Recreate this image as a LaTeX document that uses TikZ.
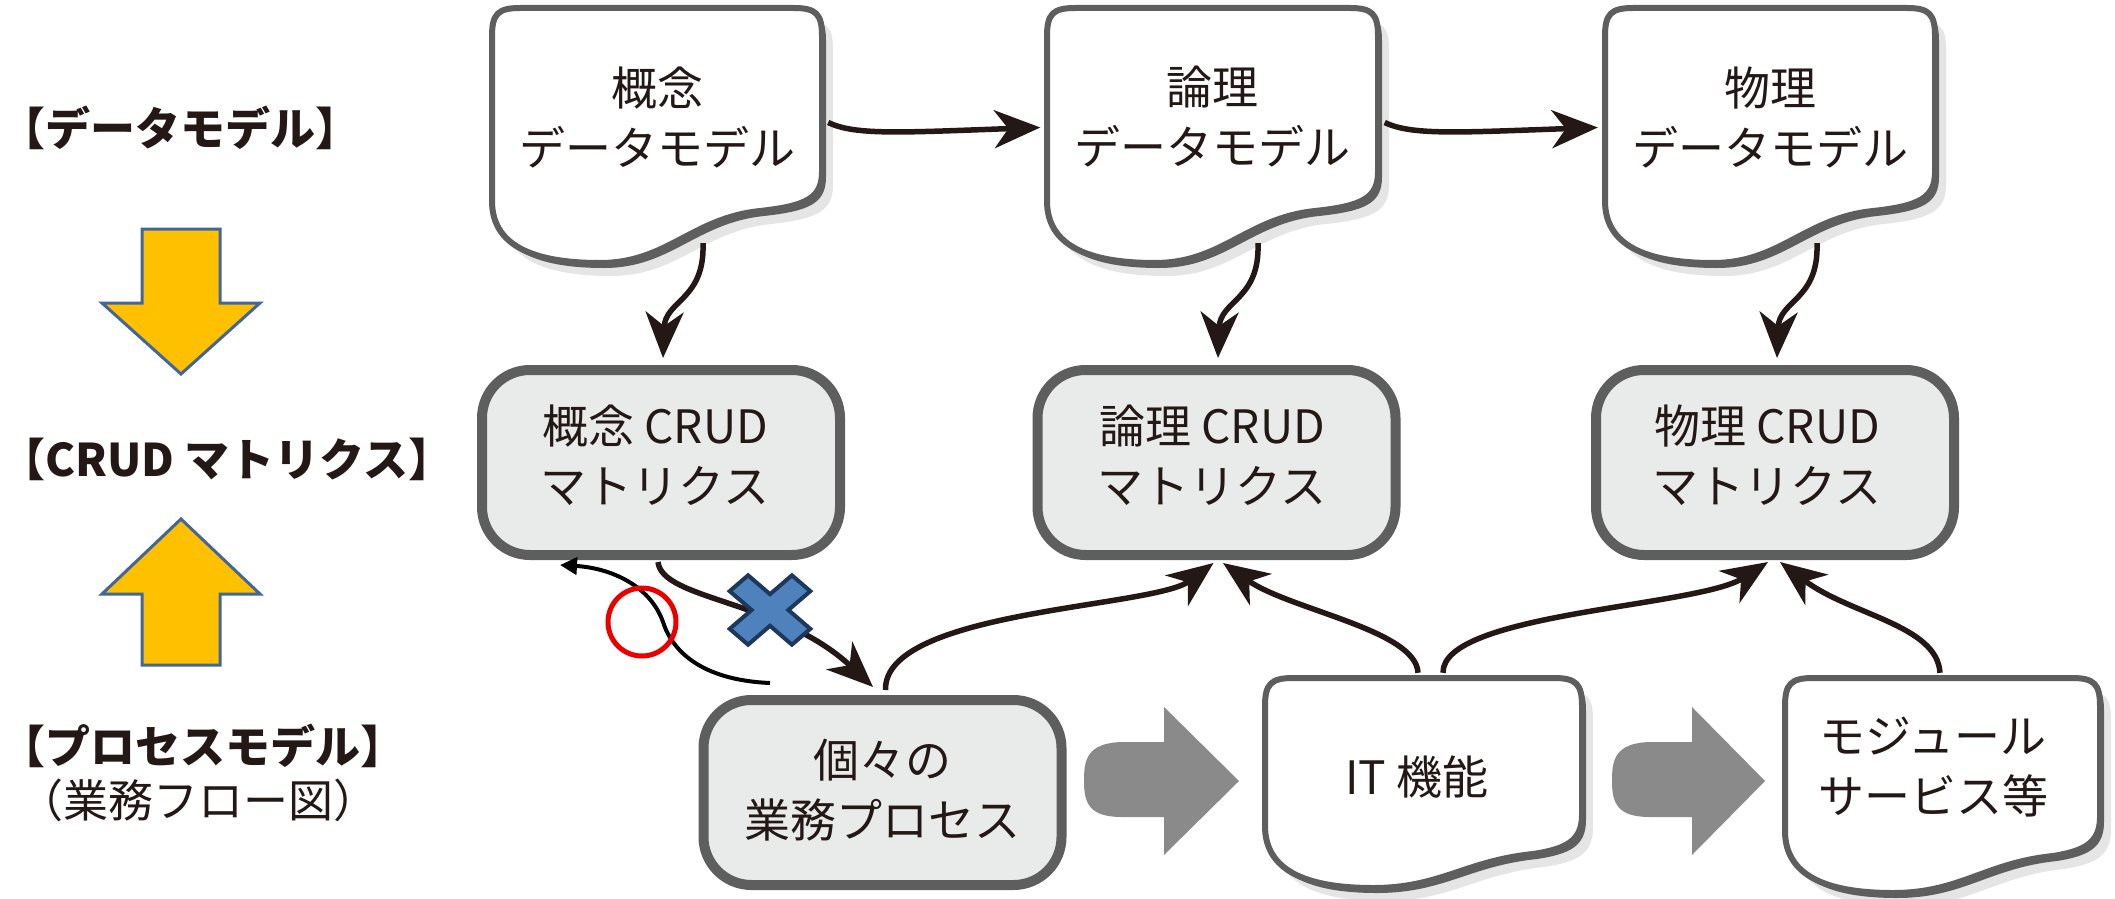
\documentclass[tikz,border=0pt]{standalone}
\usepackage{fontspec}
\setmainfont{Noto Sans CJK JP}
\usetikzlibrary{arrows.meta,calc}
\definecolor{bdgray}{RGB}{94,94,94}
\definecolor{crudfill}{RGB}{233,235,234}
\definecolor{inkc}{RGB}{35,24,21}
\definecolor{blockgray}{RGB}{138,138,138}
\definecolor{ygold}{RGB}{255,192,0}
\definecolor{yborder}{RGB}{65,102,154}
\definecolor{xblue}{RGB}{79,129,189}
\definecolor{xnavy}{RGB}{28,56,92}
\definecolor{okred}{RGB}{235,0,0}
\tikzset{
 boxlabel/.style={font=\fontsize{46}{60}\selectfont, align=center, text=inkc, inner sep=0pt},
 crudbox/.style={draw=bdgray, fill=crudfill, line width=10pt, rounded corners=48pt, minimum width=358pt, minimum height=185pt, inner sep=0pt},
 docarea/.style={minimum width=330pt, minimum height=255pt, inner sep=0pt},
 flowarrow/.style={draw=inkc, line width=5.5pt, -{Stealth[length=46pt,width=38pt,inset=14pt]}},
 sidelabel/.style={font=\fontsize{45}{50}\selectfont\bfseries, anchor=west, inner sep=0pt, text=inkc},
 yarrow/.style={fill=ygold, draw=yborder, line width=3pt},
 garrow/.style={fill=blockgray},
 xmark/.style={fill=xblue, draw=xnavy, line width=4pt},
 okline/.style={draw=black, line width=4pt, -{Triangle[length=17pt,width=17pt]}},
}
% L T R Bl Br
\newcommand{\mydocbox}[5]{%
 \fill[black,opacity=0.10,shift={(11,13)}] (#1,#2+28) -- (#1,#4-62) .. controls (#1,#4-18) and (#1+40,#4) .. (#1+108,#4) .. controls (#1+175,#4) and (#1+200,#5+8) .. (#1+268,#5+1) .. controls (#3-16,#5-4) and (#3,#5-12) .. (#3,#5-38) -- (#3,#2+28) .. controls (#3,#2+6) and (#3-6,#2) .. (#3-28,#2) -- (#1+28,#2) .. controls (#1+6,#2) and (#1,#2+6) .. (#1,#2+28) -- cycle;
 \fill[bdgray,shift={(4,5)}] (#1,#2+28) -- (#1,#4-62) .. controls (#1,#4-18) and (#1+40,#4) .. (#1+108,#4) .. controls (#1+175,#4) and (#1+200,#5+8) .. (#1+268,#5+1) .. controls (#3-16,#5-4) and (#3,#5-12) .. (#3,#5-38) -- (#3,#2+28) .. controls (#3,#2+6) and (#3-6,#2) .. (#3-28,#2) -- (#1+28,#2) .. controls (#1+6,#2) and (#1,#2+6) .. (#1,#2+28) -- cycle;
 \filldraw[fill=white,draw=bdgray,line width=6pt] (#1,#2+28) -- (#1,#4-62) .. controls (#1,#4-18) and (#1+40,#4) .. (#1+108,#4) .. controls (#1+175,#4) and (#1+200,#5+8) .. (#1+268,#5+1) .. controls (#3-16,#5-4) and (#3,#5-12) .. (#3,#5-38) -- (#3,#2+28) .. controls (#3,#2+6) and (#3-6,#2) .. (#3-28,#2) -- (#1+28,#2) .. controls (#1+6,#2) and (#1,#2+6) .. (#1,#2+28) -- cycle;
}
% L base tip cy
\newcommand{\mygrayarrow}[4]{%
 \fill[garrow] (#2,#4-39) -- (#1+38,#4-39) .. controls (#1+2,#4-38) and (#1,#4-20) .. (#1,#4) .. controls (#1,#4+22) and (#1+5,#4+36) .. (#1+38,#4+36) -- (#2,#4+36) -- (#2,#4+74) -- (#3,#4) -- (#2,#4-74) -- cycle;
}
\begin{document}
\begin{tikzpicture}[x=1pt,y=-1pt]
\useasboundingbox (0,0) rectangle (2115,899);
\fill[white] (0,0) rectangle (2115,899);

% left labels
\node[sidelabel] (lab1) at (0,128) {【データモデル】};
\node[sidelabel] (lab2) at (0,459) {【CRUD マトリクス】};
\node[sidelabel] (lab3) at (0,746) {【プロセスモデル】};
\node[sidelabel, font=\fontsize{45}{50}\selectfont] (lab4) at (18,800) {（業務フロー図）};

% yellow arrows
\draw[yarrow] (142,229) -- (220,229) -- (220,303) -- (260,303) -- (181,374) -- (102,303) -- (142,303) -- cycle;
\draw[yarrow] (181,519) -- (260,594) -- (220,594) -- (220,665) -- (142,665) -- (142,594) -- (102,594) -- cycle;

% document shapes
\mydocbox{492}{8}{822}{263}{210}
\mydocbox{1047}{8}{1378}{263}{210}
\mydocbox{1605}{8}{1935}{263}{210}
\mydocbox{1265}{678}{1582}{888}{853}
\mydocbox{1785}{678}{2100}{893}{855}

\node[docarea] (d1) at (657,135.5) {};
\node[docarea] (d2) at (1212.5,135.5) {};
\node[docarea] (d3) at (1770,135.5) {};
\node[docarea, minimum width=317pt, minimum height=210pt] (it) at (1423.5,783) {};
\node[docarea, minimum width=315pt, minimum height=215pt] (md) at (1942.5,785.5) {};

\node[boxlabel] (d1t) at (657,117) {概念\\データモデル};
\node[boxlabel] (d2t) at (1212.5,117) {論理\\データモデル};
\node[boxlabel] (d3t) at (1770,117) {物理\\データモデル};
\node[boxlabel] (itt) at (1417,777) {IT 機能};
\node[boxlabel] (mdt) at (1933,767.5) {モジュール\\サービス等};

% CRUD and process boxes
\node[crudbox] (c1) at (661,462.5) {};
\node[crudbox] (c2) at (1216.5,462.5) {};
\node[crudbox] (c3) at (1775,462.5) {};
\node[crudbox] (p) at (882.5,792.5) {};
\node[boxlabel] (c1t) at (655,455) {概念 CRUD\\マトリクス};
\node[boxlabel] (c2t) at (1212,455) {論理 CRUD\\マトリクス};
\node[boxlabel] (c3t) at (1767,455) {物理 CRUD\\マトリクス};
\node[boxlabel] (pt) at (882,790) {個々の\\業務プロセス};

% gray block arrows
\mygrayarrow{1084}{1164}{1239}{781}
\mygrayarrow{1612}{1692}{1765}{781}

% connectors
\draw[flowarrow] ($(d1.east)+(6,-13)$) .. controls +(27,13) and +(-140,5) .. ($(d2.west)+(-7,-8)$);
\draw[flowarrow] ($(d2.east)+(7,-13)$) .. controls +(27,13) and +(-140,5) .. ($(d3.west)+(-7,-8)$);
\draw[flowarrow] ($(d1.south)+(46,-20)$) .. controls +(2,57) and +(2,-58) .. ($(c1.north)+(2,-7)$);
\draw[flowarrow] ($(d2.south)+(45.5,-20)$) .. controls +(2,57) and +(2,-58) .. ($(c2.north)+(1.5,-7)$);
\draw[flowarrow] ($(d3.south)+(47,-20)$) .. controls +(2,57) and +(2,-58) .. ($(c3.north)+(2,-7)$);
\draw[flowarrow] ($(c1.south)+(-3,2)$) .. controls +(4,38) and +(-93,-87) .. ($(p.north)+(-9.5,-8)$);
\draw[flowarrow] ($(p.north)+(3,-5)$) .. controls +(-2,-80) and +(-60,45) .. ($(c2.south)+(-3,3)$);
\draw[flowarrow] ($(it.north)+(-5.5,-5)$) .. controls +(-2,-43) and +(67,47) .. ($(c2.south)+(6.5,3)$);
\draw[flowarrow] ($(it.north)+(19.5,-5)$) .. controls +(-1,-60) and +(-70,45) .. ($(c3.south)+(-7,2)$);
\draw[flowarrow] ($(md.north)+(-2.5,-5)$) .. controls +(-3,-48) and +(70,53) .. ($(c3.south)+(5,2)$);

% thin black alternative path with red circle
\coordinate (okstart) at ($(p.north)+(-112.5,-12)$);
\coordinate (okmid) at (663,622);
\draw[okline] (okstart) .. controls (700,680) and (672,650) .. (okmid) .. controls (650,585) and (610,568) .. ($(c1.south)+(-101,5)$);
\node[draw=okred, line width=5pt, circle, minimum size=68pt, inner sep=0pt] (ok) at (642,622) {};

% blue cross
\begin{scope}[shift={(770,610)}, yscale=0.86, rotate=45]
\draw[xmark] (44,13) -- (13,13) -- (13,44) -- (-13,44) -- (-13,13) -- (-44,13) -- (-44,-13) -- (-13,-13) -- (-13,-44) -- (13,-44) -- (13,-13) -- (44,-13) -- cycle;
\end{scope}
\end{tikzpicture}
\end{document}
